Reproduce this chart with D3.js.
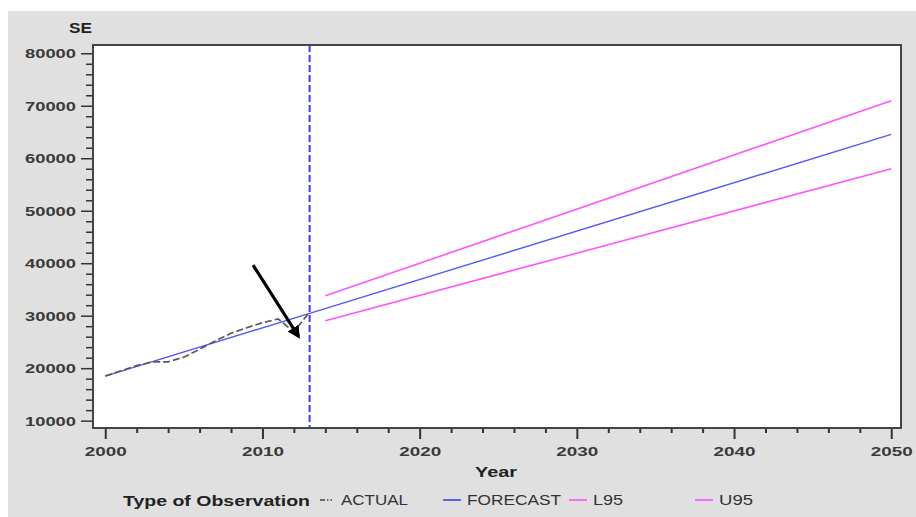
<!DOCTYPE html>
<html>
<head>
<meta charset="utf-8">
<script src="https://cdn.jsdelivr.net/npm/d3@7"></script>
<style>
  body { margin: 0; background: #fff; }
  text { font-family: "Liberation Sans", Arial, sans-serif; }
</style>
</head>
<body>
<div id="chart"></div>
<script>
// values
var actualYears = [2000, 2001, 2002, 2003, 2004, 2005, 2006, 2007, 2008, 2009, 2010, 2011, 2012, 2013];
var actualValues = [18500, 19500, 20500, 21200, 21200, 22100, 23600, 25200, 26650, 27700, 28650, 29400, 26900, 30750];
var forecastYears = [2000, 2013, 2050];
var forecastValues = [18500, 30450, 64550];
var boundYears = [2014, 2050];
var l95Values = [29050, 58000];
var u95Values = [33800, 70950];
var xTicks = [2000, 2010, 2020, 2030, 2040, 2050];
var yTicks = [10000, 20000, 30000, 40000, 50000, 60000, 70000, 80000];
var forecastStart = 2013;

var W = 916, H = 517;
var margin = {top: 45, right: 15, bottom: 89, left: 93},
    width = 901 - margin.left,
    height = 428 - margin.top;

var svg = d3.select('#chart').append('svg')
    .attr('width', W)
    .attr('height', H);

// gray panel
svg.append('rect')
    .attr('x', 8).attr('y', 11)
    .attr('width', W - 8).attr('height', H - 11)
    .attr('fill', '#e0e0e0');

var g = svg.append('g')
    .attr('transform', 'translate(' + margin.left + ',' + margin.top + ')');

var x = d3.scaleLinear().domain([1999.22, 2050.62]).range([0, width]);
var y = d3.scaleLinear().domain([8600, 81580]).range([height, 0]);

g.append('rect')
    .attr('width', width).attr('height', height)
    .attr('fill', '#fff');

// minor ticks
var xMinor = d3.range(2000, 2051, 2).filter(function(d) { return d % 10 !== 0; });
var yMinor = d3.range(10000, 80001, 2000).filter(function(d) { return d % 10000 !== 0; });

var xAxis = g.append('g')
    .attr('transform', 'translate(0,' + height + ')');
xAxis.call(d3.axisBottom(x).tickValues(xMinor).tickSize(5).tickFormat(''));
xAxis.append('g').call(d3.axisBottom(x).tickValues(xTicks).tickSize(11).tickPadding(4).tickFormat(d3.format('d')));
xAxis.selectAll('.domain').remove();
xAxis.selectAll('line').attr('stroke', '#333').attr('stroke-width', 2);

var yAxis = g.append('g');
yAxis.call(d3.axisLeft(y).tickValues(yMinor).tickSize(7).tickFormat(''));
yAxis.append('g').call(d3.axisLeft(y).tickValues(yTicks).tickSize(12).tickPadding(5).tickFormat(d3.format('d')));
yAxis.selectAll('.domain').remove();
yAxis.selectAll('line').attr('stroke', '#333').attr('stroke-width', 1.5);

svg.selectAll('.tick text')
    .attr('font-size', 13)
    .attr('font-weight', 'bold')
    .attr('fill', '#3a3a3a')
    .attr('lengthAdjust', 'spacingAndGlyphs');
xAxis.selectAll('.tick text').attr('dy', '1em').attr('textLength', function(d) { return d === '' ? null : 42; });
yAxis.selectAll('.tick text').attr('dy', '0.35em').attr('textLength', 51);

var line = d3.line()
    .x(function(d) { return x(d[0]); })
    .y(function(d) { return y(d[1]); });

var plot = g.append('g');

plot.append('path')
    .datum(d3.zip(forecastYears, forecastValues))
    .attr('d', line)
    .attr('fill', 'none')
    .attr('stroke', '#5555ff')
    .attr('stroke-width', 1.4);

plot.append('path')
    .datum(d3.zip(actualYears, actualValues))
    .attr('d', line)
    .attr('fill', 'none')
    .attr('stroke', '#5a5a5a')
    .attr('stroke-width', 1.7)
    .attr('stroke-dasharray', '7,3');

[u95Values, l95Values].forEach(function(vals) {
  plot.append('path')
      .datum(d3.zip(boundYears, vals))
      .attr('d', line)
      .attr('fill', 'none')
      .attr('stroke', '#ff55ff')
      .attr('stroke-width', 1.6);
});

// reference line at forecast start
plot.append('line')
    .attr('x1', x(forecastStart)).attr('x2', x(forecastStart))
    .attr('y1', 0).attr('y2', height)
    .attr('stroke', '#3a3aff')
    .attr('stroke-width', 2)
    .attr('stroke-dasharray', '7,3');

// annotation arrow
svg.append('defs').append('marker')
    .attr('id', 'head')
    .attr('viewBox', '0 0 10 10')
    .attr('refX', 8).attr('refY', 5)
    .attr('markerWidth', 4).attr('markerHeight', 4)
    .attr('orient', 'auto')
  .append('path')
    .attr('d', 'M0,0L10,5L0,10Z')
    .attr('fill', '#000');

plot.append('line')
    .attr('x1', x(2009.4)).attr('y1', y(39650))
    .attr('x2', x(2012.3)).attr('y2', y(26000))
    .attr('stroke', '#000')
    .attr('stroke-width', 3.2)
    .attr('marker-end', 'url(#head)');

// frame
g.append('rect')
    .attr('width', width).attr('height', height)
    .attr('fill', 'none')
    .attr('stroke', '#444')
    .attr('stroke-width', 2);

// titles
svg.append('text')
    .attr('x', 69).attr('y', 33)
    .attr('font-size', 14).attr('font-weight', 'bold')
    .attr('fill', '#222')
    .attr('textLength', 23).attr('lengthAdjust', 'spacingAndGlyphs')
    .text('SE');

svg.append('text')
    .attr('x', 475).attr('y', 477)
    .attr('font-size', 15).attr('font-weight', 'bold')
    .attr('fill', '#222')
    .attr('textLength', 42).attr('lengthAdjust', 'spacingAndGlyphs')
    .text('Year');

// legend
var ly = 500;
svg.append('text')
    .attr('x', 123).attr('y', ly + 6)
    .attr('font-size', 15).attr('font-weight', 'bold')
    .attr('fill', '#222')
    .attr('textLength', 187).attr('lengthAdjust', 'spacingAndGlyphs')
    .text('Type of Observation');

var legendItems = [
  {label: 'ACTUAL', x: 320, len: 67, color: '#444', dash: '5,2,1.5,2'},
  {label: 'FORECAST', x: 443, len: 94, color: '#3333ff', dash: null},
  {label: 'L95', x: 569, len: 30, color: '#ff44ff', dash: null},
  {label: 'U95', x: 695, len: 34, color: '#ff44ff', dash: null}
];

var leg = svg.selectAll('.leg')
    .data(legendItems)
  .enter().append('g')
    .attr('class', 'leg')
    .attr('transform', function(d) { return 'translate(' + d.x + ',' + ly + ')'; });

leg.append('line')
    .attr('x1', 0).attr('x2', function(d) { return d.dash ? 12 : 18; })
    .attr('stroke', function(d) { return d.color; })
    .attr('stroke-width', 1.5)
    .attr('stroke-dasharray', function(d) { return d.dash; });

leg.append('text')
    .attr('x', function(d) { return d.dash ? 21 : 24; })
    .attr('y', 5)
    .attr('font-size', 14)
    .attr('fill', '#333')
    .attr('textLength', function(d) { return d.len; })
    .attr('lengthAdjust', 'spacingAndGlyphs')
    .text(function(d) { return d.label; });
</script>
</body>
</html>
